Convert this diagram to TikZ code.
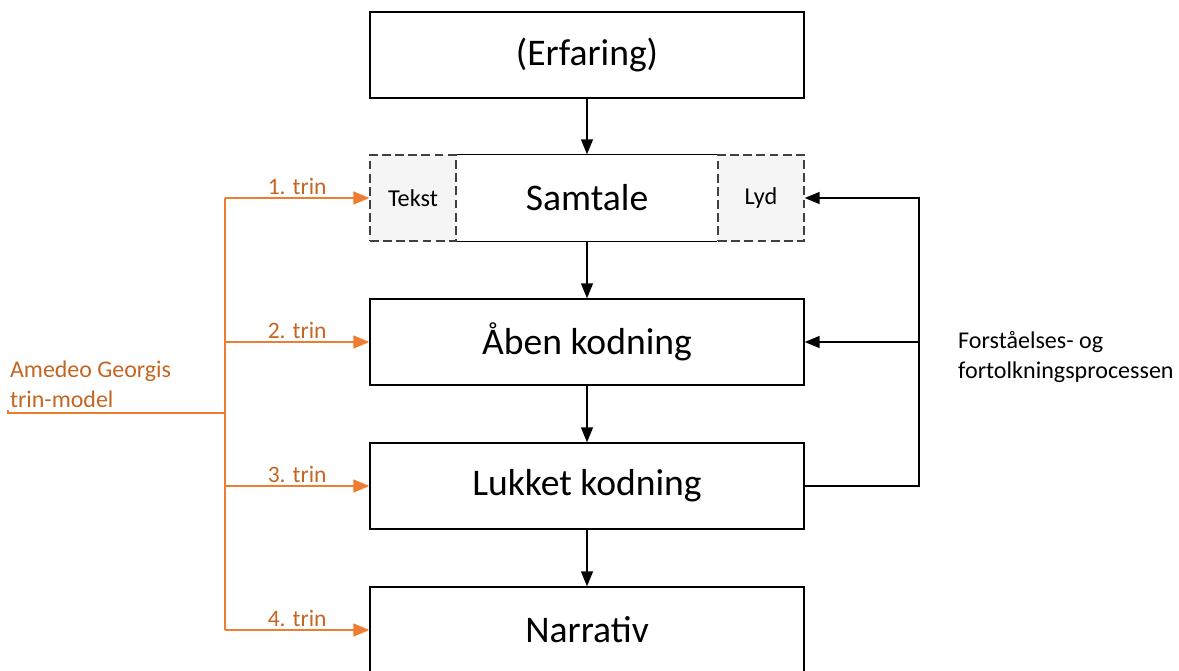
\documentclass[tikz,border=0pt]{standalone}
\usepackage{fontspec}
\setmainfont{Carlito}
\usepackage{tikz}
\usetikzlibrary{arrows.meta,positioning}
\usepackage{xcolor}
\definecolor{trinline}{HTML}{ED7D31}
\definecolor{trintext}{HTML}{C5651F}
\definecolor{subgray}{HTML}{F5F5F5}

\begin{document}
\begin{tikzpicture}[x=0.02cm,y=-0.02cm,
  stage/.style={draw, line width=0.8pt, minimum width=8.68cm, minimum height=1.72cm, font=\fontsize{21.4}{25}\selectfont, inner sep=0pt},
  sub/.style={draw=black!75, dash pattern=on 5pt off 2.5pt, fill=subgray, line width=0.7pt, minimum width=1.72cm, minimum height=1.72cm, font=\fontsize{13.8}{16}\selectfont, inner sep=0pt},
  arr/.style={line width=0.8pt, -{Triangle[length=0.3cm,width=0.24cm]}},
  oarr/.style={trinline, line width=0.7pt, -{Triangle[length=0.32cm,width=0.26cm]}},
  olbl/.style={trintext, font=\fontsize{13.4}{16}\selectfont, inner sep=1.5pt}]
\useasboundingbox (0,0) rectangle (1179,671);
\begin{scope}
\clip (0,0) rectangle (1179,671);
% boxes
\node[stage] (erf) at (587,55) {(Erfaring)};
\node[stage, draw=none] (sam) at (587,198) {Samtale};
\node[sub, anchor=west] (tekst) at (sam.west) {Tekst};
\node[sub, anchor=east] (lyd) at (sam.east) {Lyd};
\draw[line width=0.8pt] (tekst.north east) -- (lyd.north west) (tekst.south east) -- (lyd.south west);
\node[stage] (aab) at (587,342) {Åben kodning};
\node[stage] (luk) at (587,486) {Lukket kodning};
\node[stage] (nar) at (587,630) {Narrativ};
\end{scope}
% main flow
\draw[arr] (erf) -- (sam);
\draw[arr] (sam) -- (aab);
\draw[arr] (aab) -- (luk);
\draw[arr] (luk) -- (nar);
% feedback
\coordinate (fb) at (919,0);
\draw[arr] (luk.east) -| (fb |- sam.east) -- (sam.east);
\draw[arr] (fb |- aab.east) -- (aab.east);
\node[anchor=west, align=left, font=\fontsize{13.7}{17.2}\selectfont] (proc) at (952,357) {Forståelses- og\\fortolkningsprocessen};
% trin-model
\coordinate (bus) at (225,413);
\node[olbl, anchor=south west, align=left, font=\fontsize{13.6}{17.2}\selectfont, inner sep=1pt] (model) at (8,410) {Amedeo Georgis\\trin-model};
\draw[trinline, line width=0.7pt] (model.south west) |- (bus);
\draw[trinline, line width=0.7pt] (sam.west -| bus) -- (nar.west -| bus);
\draw[oarr] (sam.west -| bus) -- node[olbl, above] (t1) {1. trin} (sam.west);
\draw[oarr] (aab.west -| bus) -- node[olbl, above] (t2) {2. trin} (aab.west);
\draw[oarr] (luk.west -| bus) -- node[olbl, above] (t3) {3. trin} (luk.west);
\draw[oarr] (nar.west -| bus) -- node[olbl, above] (t4) {4. trin} (nar.west);
\end{tikzpicture}
\end{document}
